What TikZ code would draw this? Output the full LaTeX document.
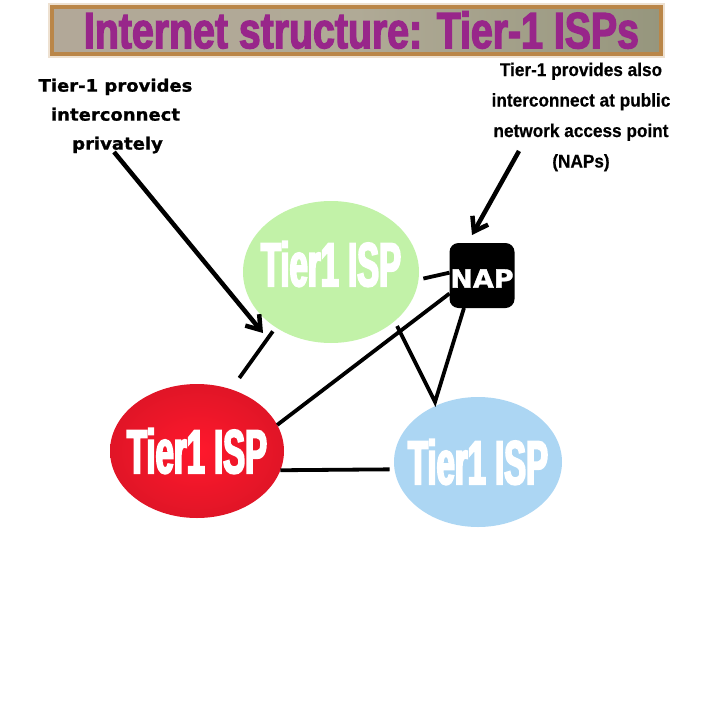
\documentclass[tikz,border=0pt]{standalone}
\usepackage{fontspec}
\usetikzlibrary{shapes.geometric,arrows.meta}
\newfontfamily\titlefont[FakeStretch=0.77,FakeBold=2.5]{Liberation Sans Bold}
\newfontfamily\ispfont[FakeStretch=0.53,FakeBold=3]{Liberation Sans Bold}
\newfontfamily\noteleftfont[FakeStretch=1.06,FakeBold=1]{DejaVu Sans Bold}
\newfontfamily\noterightfont[FakeStretch=0.93,FakeBold=0.5]{Liberation Sans Bold}
\newfontfamily\napfont[FakeStretch=1.08,FakeBold=1.5]{DejaVu Sans Bold}
\definecolor{ispgreen}{RGB}{194,242,168}
\definecolor{ispred}{RGB}{255,24,44}
\definecolor{ispblue}{RGB}{172,214,243}
\definecolor{titlefg}{RGB}{152,38,138}
\definecolor{titleedge}{RGB}{186,134,72}
\definecolor{titleleft}{RGB}{178,168,152}
\definecolor{titlemid}{RGB}{176,170,150}
\definecolor{titleright}{RGB}{150,150,125}
\tikzset{
    isp/.style={ellipse,inner xsep=-20pt,inner ysep=0pt,outer sep=0pt,font=\ispfont\fontsize{62}{62}\selectfont,text=white},
    link/.style={line width=3.8pt,black},
    notearrow/.style={line width=4.5pt,black,-{Straight Barb[length=13pt,width=18pt,line width=4.5pt]}},
    note/.style={align=center,inner sep=0pt,outer sep=0pt,text=black}
}
\begin{document}
\begin{tikzpicture}[x=1pt,y=-1pt]
    \useasboundingbox (0,0) rectangle (720,720);
    % heading
    \node[preaction={draw=titleedge!25,line width=8pt},draw=titleedge,line width=4pt,
        left color=titleleft,right color=titleright,middle color=titlemid,
        minimum width=609pt,minimum height=47pt,inner sep=0pt] (heading) at (356,30)
        {\hspace*{11pt}\titlefont\fontsize{51}{51}\selectfont\textcolor{titlefg}{Internet structure: Tier-1 ISPs}};
    % nodes
    \node[isp,fill=ispgreen,minimum width=176pt,minimum height=142pt] (greenisp) at (331,272) {\raisebox{8pt}[\height][\depth]{Tier1 ISP}};
    \node[isp,shade,inner color=ispred,outer color=ispred!88!black,minimum width=174pt,minimum height=134pt] (redisp) at (197,451) {Tier1 ISP};
    \node[isp,fill=ispblue,minimum width=168pt,minimum height=130pt] (blueisp) at (478,462) {Tier1 ISP};
    \node[rectangle,rounded corners=9pt,fill=black,text=white,minimum size=65pt,inner sep=0pt,outer sep=0pt,
        font=\napfont\fontsize{25}{25}\selectfont] (nap) at (482,275.5) {\raisebox{-3pt}[\height][\depth]{NAP}};
    % notes
    \node[note,font=\noteleftfont\fontsize{17}{29}\selectfont] (noteprivate) at (115.5,116)
        {Tier-1 provides\\interconnect\\\hspace*{4pt}privately};
    \node[note,font=\noterightfont\fontsize{18.5}{30.5}\selectfont] (notepublic) at (581,117)
        {Tier-1 provides also\\interconnect at public\\network access point\\(NAPs)};
    \coordinate (privatestart) at (114,152);
    \coordinate (privatetip) at (263,333);
    \coordinate (publicstart) at (519,151);
    \coordinate (publictip) at (472,235);
    \coordinate (kink) at (435,402);
    \coordinate (joint) at (397,326);
    % links
    \draw[link,shorten <=5pt,shorten >=14pt] (greenisp.225) -- (redisp.61);
    \draw[link,shorten <=5pt] (greenisp.355.5) -- (nap.175.7);
    \draw[link] (redisp.18) -- (nap.209);
    \draw[link,shorten >=5pt] (redisp.347.5) -- (blueisp.185);
    \draw[link] (nap.241) -- (kink) -- (joint);
    % arrows
    \draw[notearrow] (privatestart) -- (privatetip);
    \draw[notearrow] (publicstart) -- (publictip);
\end{tikzpicture}
\end{document}
